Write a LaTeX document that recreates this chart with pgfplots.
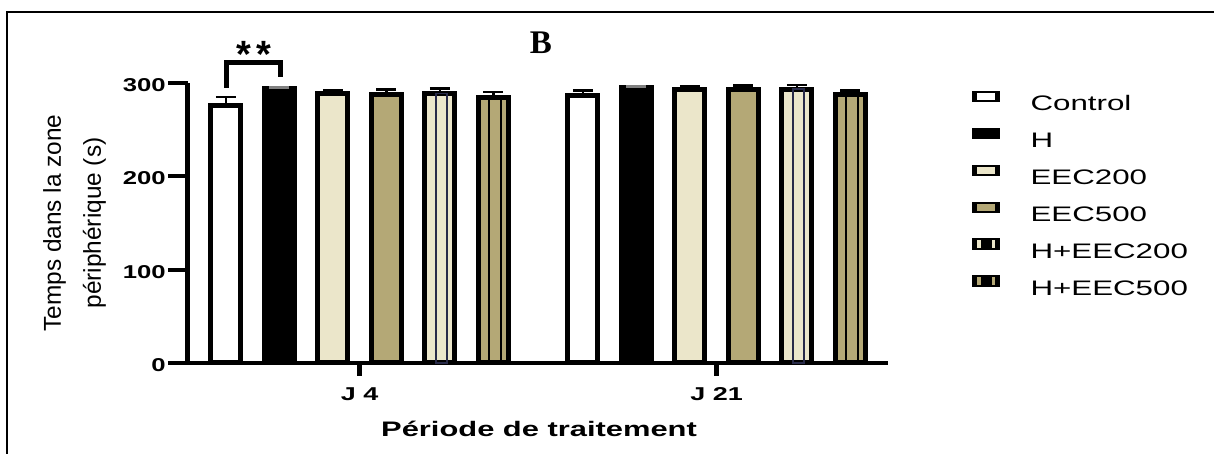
\documentclass[border=0pt]{standalone}
\usepackage{pgfplots}
\pgfplotsset{compat=1.18}
\usepackage{pgfplotstable}
\usepackage{fontspec}
\setmainfont{Liberation Sans}
\newfontfamily\tickfont[FakeStretch=1.38]{Liberation Sans}
\newfontfamily\xtickfont[FakeStretch=1.45]{Liberation Sans}
\newfontfamily\xlabfont[FakeStretch=1.47]{Liberation Sans}
\newfontfamily\legfont[FakeStretch=1.49]{Liberation Sans}
\newfontfamily\titlefont{Liberation Serif}
\definecolor{cream}{RGB}{235,230,202}
\definecolor{khaki}{RGB}{180,168,118}
\definecolor{navyline}{RGB}{40,42,72}

\pgfplotstableread{
x y e
0 276.1 9.0
1 286.8 5.0
}\tcontrol
\pgfplotstableread{
x y e
0 294.2 0.8
1 295.5 0.8
}\th
\pgfplotstableread{
x y e
0 289.1 3.0
1 292.9 3.7
}\teectwo
\pgfplotstableread{
x y e
0 287.7 5.5
1 293.2 4.0
}\teecfive
\pgfplotstableread{
x y e
0 288.8 5.5
1 293.2 4.7
}\theectwo
\pgfplotstableread{
x y e
0 284.3 6.0
1 287.5 4.6
}\theecfive

\pgfplotsset{
  errstyle/.style={
    error bars/.cd, y dir=plus, y explicit,
    error bar style={line width=1.25pt, #1},
    error mark options={rotate=90, line width=1.25pt, mark size=5pt, #1}},
}

\begin{document}
\begin{tikzpicture}
\path[fill=white, use as bounding box] (0,0) rectangle (607pt,227pt);
\draw[line width=0.9pt] (3.5pt,0) -- (3.5pt,221pt) -- (607pt,221pt);
\begin{axis}[
  at={(93.75pt,45.5pt)}, anchor=south west,
  scale only axis, width=350.25pt, height=140pt,
  xmin=-0.482, xmax=1.48, ymin=0, ymax=300,
  axis lines=left, axis line style={-},
  x axis line style={line width=2pt},
  y axis line style={line width=2.5pt},
  clip=false,
  ybar, bar width=15pt,
  ytick={0,100,200,300}, yticklabels={0,100,200,300},
  xtick={0,1}, xticklabels={J 4,J 21},
  tick align=outside, major tick length=9.75pt,
  ytick style={line width=2pt, black},
  xtick style={line width=2.75pt, black, /pgfplots/major tick length=6.5pt},
  /pgf/number format/assume math mode=true,
  yticklabel style={font=\tickfont\bfseries\fontsize{9.3}{11}\selectfont, inner sep=0pt, anchor=east, xshift=-1pt, yshift=-1pt},
  xticklabel style={font=\xtickfont\bfseries\fontsize{9.3}{11}\selectfont, inner sep=0pt, anchor=north, yshift=-2.5pt},
  xlabel={Période de traitement},
  xlabel style={font=\xlabfont\bfseries\fontsize{10.5}{12}\selectfont, at={(axis description cs:0.5018,-0.264)}, anchor=base, inner sep=0pt},
  ylabel={Temps dans la zone\\périphérique (s)},
  ylabel style={font=\fontsize{12.2}{20}\selectfont, align=center, at={(axis description cs:-0.1613,0.5)}, anchor=center, inner sep=0pt},
  title={B},
  title style={font=\titlefont\bfseries\fontsize{16.5}{19}\selectfont, at={(axis description cs:0.5046,1.1036)}, anchor=base, inner sep=0pt, yshift=-6pt},
  legend cell align=left,
  legend style={at={(axis description cs:1.1195,0.972)}, anchor=north west, draw=none, fill=none,
    inner sep=0pt, outer sep=0pt, row sep=8.6pt, column sep=15.2pt,
    font=\legfont\fontsize{10.5}{12}\selectfont,
    nodes={inner sep=0pt, text height=7.7pt, text depth=0pt}},
]
\addplot[bar shift=-66.875pt, fill=white, draw=black, line width=2.5pt, errstyle=black,
  /pgfplots/legend image code/.code={\fill[black] (0pt,1.55pt) rectangle (11.7pt,4.75pt); \fill[white] (2.4pt,2.55pt) rectangle (9.3pt,3.75pt);}]
  table[x=x, y=y, y error=e] {\tcontrol};
\addlegendentry{Control}
\addplot[bar shift=-40.125pt, fill=black, draw=black, line width=2.5pt, errstyle=gray,
  /pgfplots/legend image code/.code={\fill[black] (0pt,1.55pt) rectangle (11.7pt,4.75pt);}]
  table[x=x, y=y, y error=e] {\th};
\addlegendentry{H}
\addplot[bar shift=-13.375pt, fill=cream, draw=black, line width=2.5pt, errstyle=black,
  /pgfplots/legend image code/.code={\fill[black] (0pt,1.55pt) rectangle (11.7pt,4.75pt); \fill[cream] (2.4pt,2.55pt) rectangle (9.3pt,3.75pt);}]
  table[x=x, y=y, y error=e] {\teectwo};
\addlegendentry{EEC200}
\addplot[bar shift=13.375pt, fill=khaki, draw=black, line width=2.5pt, errstyle=black,
  /pgfplots/legend image code/.code={\fill[black] (0pt,1.55pt) rectangle (11.7pt,4.75pt); \fill[khaki] (2.4pt,2.55pt) rectangle (9.3pt,3.75pt);}]
  table[x=x, y=y, y error=e] {\teecfive};
\addlegendentry{EEC500}
\addplot[bar shift=40.125pt, fill=cream, draw=black, line width=2.5pt, errstyle=black,
  /pgfplots/legend image code/.code={\fill[black] (0pt,1.55pt) rectangle (11.7pt,4.75pt); \fill[cream] (2.4pt,2.55pt) rectangle (9.3pt,3.75pt); \fill[black] (4.5pt,2.55pt) rectangle (5pt,3.75pt); \fill[black] (6.9pt,2.55pt) rectangle (7.4pt,3.75pt);}]
  table[x=x, y=y, y error=e] {\theectwo};
\addlegendentry{H+EEC200}
\addplot[bar shift=41pt, bar width=5.75pt, fill=none, draw=navyline, line width=0.9pt, forget plot]
  table[x=x, y=y] {\theectwo};
\addplot[bar shift=66.875pt, fill=khaki, draw=black, line width=2.5pt, errstyle=black,
  /pgfplots/legend image code/.code={\fill[black] (0pt,1.55pt) rectangle (11.7pt,4.75pt); \fill[khaki] (2.4pt,2.55pt) rectangle (9.3pt,3.75pt); \fill[black] (4.5pt,2.55pt) rectangle (5pt,3.75pt); \fill[black] (6.9pt,2.55pt) rectangle (7.4pt,3.75pt);}]
  table[x=x, y=y, y error=e] {\theecfive};
\addlegendentry{H+EEC500}
\addplot[bar shift=67.75pt, bar width=5.75pt, fill=none, draw=black, line width=0.9pt, forget plot]
  table[x=x, y=y] {\theecfive};
\draw[line width=2.5pt] (axis cs:-0.3728,294.8) |- (axis cs:-0.2214,322) -- (axis cs:-0.2214,306);
\node[anchor=base, font=\bfseries\fontsize{19}{22}\selectfont, inner sep=0pt] at (axis cs:-0.2957,316.9) {*\kern2.3pt*};
\end{axis}
\end{tikzpicture}
\end{document}
